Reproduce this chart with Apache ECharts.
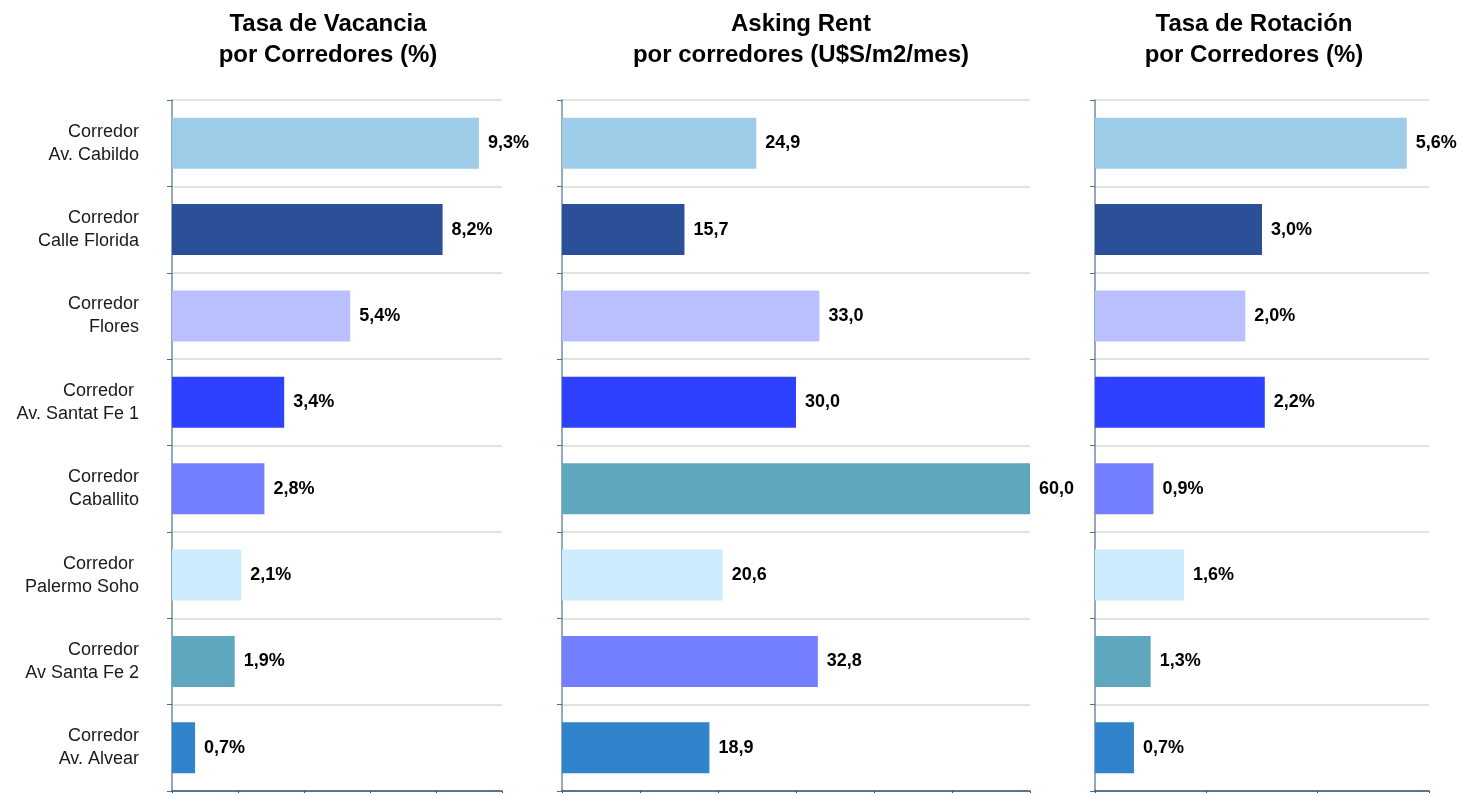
<!DOCTYPE html>
<html>
<head>
<meta charset="utf-8">
<script src="https://cdn.jsdelivr.net/npm/echarts@6/dist/echarts.min.js"></script>
<style>
  html, body { margin: 0; padding: 0; background: #fff; }
  #chart { width: 1457px; height: 793px; }
</style>
</head>
<body>
<div id="chart"></div>
<script>
const corredores = [
  'Corredor\nAv. Cabildo',
  'Corredor\nCalle Florida',
  'Corredor\nFlores',
  'Corredor \nAv. Santat Fe 1',
  'Corredor\nCaballito',
  'Corredor \nPalermo Soho',
  'Corredor\nAv Santa Fe 2',
  'Corredor\nAv. Alvear'
]
const vacancia = [9.3, 8.2, 5.4, 3.4, 2.8, 2.1, 1.9, 0.7]
const askingRent = [24.9, 15.7, 33.0, 30.0, 60.0, 20.6, 32.8, 18.9]
// en el original las barras de rotación no coinciden con sus etiquetas
const rotacionBarras = [5.6, 3.0, 2.7, 3.05, 1.05, 1.6, 1.0, 0.7]
const rotacionEtiquetas = [5.6, 3.0, 2.0, 2.2, 0.9, 1.6, 1.3, 0.7]

// colores por corredor (el panel de rent intercambia Caballito y Santa Fe 2)
const coloresA = ['#9DCCE9', '#2B5097', '#BABFFE', '#2E41FF', '#737FFF', '#CCECFE', '#5FA6BF', '#3183CC']
const coloresB = ['#9DCCE9', '#2B5097', '#BABFFE', '#2E41FF', '#5FA6BF', '#CCECFE', '#737FFF', '#3183CC']

const titulos = [
  { text: 'Tasa de Vacancia\npor Corredores (%)', x: 323 },
  { text: 'Asking Rent\npor corredores (U$S/m2/mes)', x: 796 },
  { text: 'Tasa de Rotación\npor Corredores (%)', x: 1249 }
]

const font = "'Liberation Sans', Arial, sans-serif"
const chart = echarts.init(document.getElementById('chart'))

function fmt(v, pct) {
  return v.toFixed(1).replace('.', ',') + (pct ? '%' : '')
}

function xAxis(idx, max, interval) {
  return {
    gridIndex: idx,
    type: 'value',
    min: 0,
    max: max,
    interval: interval,
    axisLine: { show: true, lineStyle: { color: '#2F4F6F', width: 1.5 } },
    axisTick: { show: true, inside: false, length: 4, lineStyle: { color: '#2F4F6F' } },
    axisLabel: { show: false },
    splitLine: { show: false }
  }
}

function yAxis(idx, showLabels) {
  return {
    gridIndex: idx,
    type: 'category',
    inverse: true,
    data: corredores,
    axisLine: { show: true, lineStyle: { color: '#6F8CA4', width: 1.5 } },
    axisTick: { show: true, length: 5, lineStyle: { color: '#4F6F8C' } },
    axisLabel: {
      show: showLabels,
      margin: 33,
      fontFamily: font,
      fontSize: 18,
      lineHeight: 23,
      color: '#1a1a1a',
      align: 'right'
    },
    splitLine: { show: true, lineStyle: { color: '#D9D9D9', width: 1.5 } }
  }
}

function serie(idx, valores, etiquetas, colores, pct) {
  return {
    type: 'bar',
    xAxisIndex: idx,
    yAxisIndex: idx,
    barWidth: 51,
    data: valores.map((v, i) => ({ value: v, itemStyle: { color: colores[i] } })),
    label: {
      show: true,
      position: 'right',
      distance: 9,
      fontFamily: font,
      fontWeight: 'bold',
      fontSize: 18,
      color: '#000',
      formatter: p => fmt(etiquetas[p.dataIndex], pct)
    }
  }
}

const option = {
  animation: false,
  backgroundColor: '#fff',
  title: titulos.map(t => ({
    text: t.text,
    left: t.x,
    top: 4,
    textAlign: 'center',
    textStyle: { fontFamily: font, fontWeight: 'bold', fontSize: 24, lineHeight: 31, color: '#000' }
  })),
  grid: [
    { left: 172, top: 100, width: 330, bottom: 2, containLabel: false },
    { left: 562, top: 100, width: 468, bottom: 2, containLabel: false },
    { left: 1095, top: 100, width: 334, bottom: 2, containLabel: false }
  ],
  xAxis: [xAxis(0, 10, 2), xAxis(1, 60, 10), xAxis(2, 6, 2)],
  yAxis: [yAxis(0, true), yAxis(1, false), yAxis(2, false)],
  series: [
    serie(0, vacancia, vacancia, coloresA, true),
    serie(1, askingRent, askingRent, coloresB, false),
    serie(2, rotacionBarras, rotacionEtiquetas, coloresA, true)
  ]
}

chart.setOption(option)
</script>
</body>
</html>
